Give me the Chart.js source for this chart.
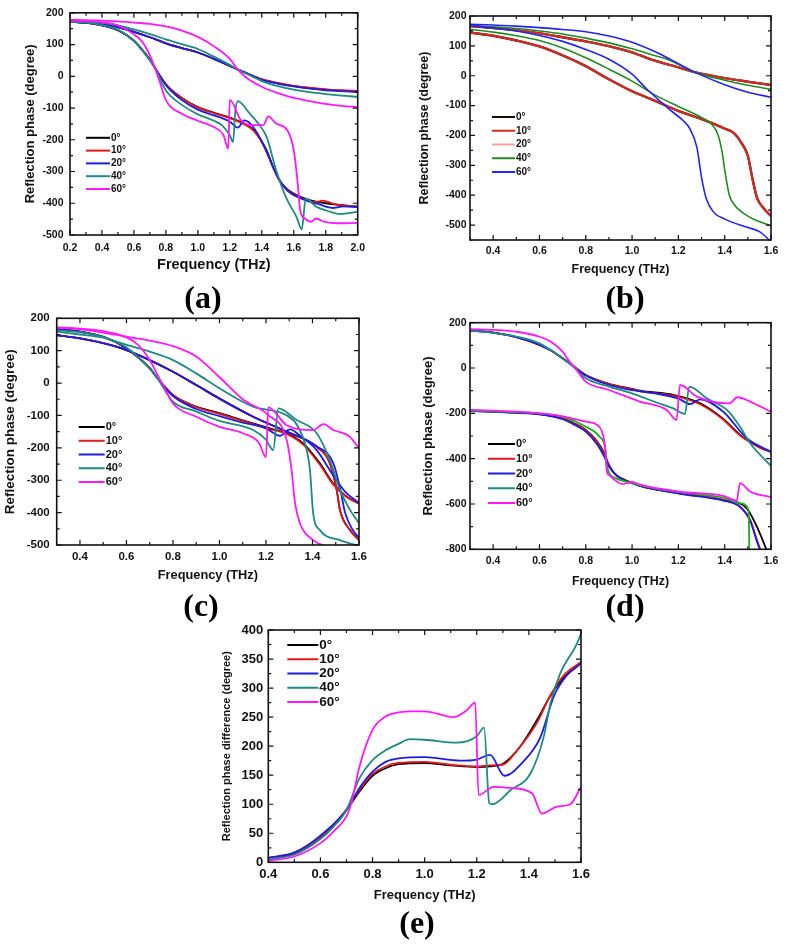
<!DOCTYPE html>
<html>
<head>
<meta charset="utf-8">
<script src="https://cdn.jsdelivr.net/npm/chart.js@4.4.0/dist/chart.umd.min.js"></script>
<style>
  body { margin: 0; width: 787px; height: 944px; position: relative; overflow: hidden; background: #fff; }
  canvas { position: absolute; }
  .tag { position: absolute; transform: translate(-50%, -50%); font: bold 32px "Liberation Serif", "Times New Roman", serif; color: #000; }
</style>
</head>
<body>
<canvas id="ca" width="372" height="285" style="left:0;top:0"></canvas>
<canvas id="cb" width="397" height="285" style="left:390px;top:0"></canvas>
<canvas id="cc" width="372" height="285" style="left:0;top:300px"></canvas>
<canvas id="cd" width="397" height="285" style="left:390px;top:305px"></canvas>
<canvas id="ce" width="400" height="290" style="left:200px;top:615px"></canvas>
<div class="tag" style="left:203px;top:297px">(a)</div>
<div class="tag" style="left:625px;top:297px">(b)</div>
<div class="tag" style="left:201px;top:605px">(c)</div>
<div class="tag" style="left:625px;top:605px">(d)</div>
<div class="tag" style="left:417px;top:922px">(e)</div>
<script>
const angles = ["0°", "10°", "20°", "40°", "60°"];

// ---- (a) ----
const aUp0 = [[0.2,172],[0.3,170],[0.4,165],[0.5,155],[0.6,140],[0.7,123],[0.8,104],[0.9,89],[1.0,75],[1.1,55],[1.2,33],[1.25,21],[1.3,11],[1.4,-10],[1.5,-22],[1.6,-31],[1.7,-37],[1.8,-42],[1.9,-45],[2.0,-48]];
const aUp10 = [[0.2,172],[0.3,170],[0.4,165],[0.5,155],[0.6,140],[0.7,123],[0.8,104],[0.9,89],[1.0,75],[1.1,55],[1.2,33],[1.25,21],[1.3,11],[1.4,-9],[1.5,-21],[1.6,-30],[1.7,-36],[1.8,-41],[1.9,-44],[2.0,-46]];
const aUp20 = [[0.2,172],[0.3,170],[0.4,165],[0.5,155],[0.6,140],[0.7,123],[0.8,104],[0.9,89],[1.0,75],[1.1,55],[1.2,33],[1.25,21],[1.3,11],[1.4,-11],[1.5,-23],[1.6,-32],[1.7,-39],[1.8,-44],[1.9,-47],[2.0,-50]];
const aUp40 = [[0.2,173],[0.3,172],[0.4,168],[0.5,160],[0.6,148],[0.7,133],[0.8,116],[0.9,101],[1.0,86],[1.1,62],[1.2,36],[1.25,21],[1.3,9],[1.4,-15],[1.5,-31],[1.6,-42],[1.7,-50],[1.8,-56],[1.9,-61],[2.0,-65]];
const aUp60 = [[0.2,178],[0.3,177],[0.4,175],[0.5,173],[0.6,169],[0.7,165],[0.8,157],[0.9,144],[1.0,124],[1.1,95],[1.2,55],[1.25,21],[1.3,-3],[1.4,-33],[1.5,-53],[1.6,-68],[1.7,-78],[1.8,-87],[1.9,-93],[2.0,-97]];
const aLo0 = [[0.2,172],[0.3,168],[0.4,160],[0.5,145],[0.6,112],[0.65,84],[0.7,52],[0.73,28],[0.8,-25],[0.9,-68],[1.0,-97],[1.1,-115],[1.2,-130],[1.3,-152],[1.35,-170],[1.43,-233],[1.47,-285],[1.51,-327],[1.55,-352],[1.62,-375],[1.7,-390],[1.8,-400],[1.9,-406],[2.0,-411]];
const aLo10 = [[0.2,172],[0.3,168],[0.4,160],[0.5,145],[0.6,112],[0.65,84],[0.7,52],[0.73,28],[0.8,-25],[0.9,-69],[1.0,-98],[1.1,-116],[1.2,-132],[1.3,-154],[1.35,-172],[1.43,-236],[1.47,-287],[1.51,-329],[1.55,-354],[1.62,-377],[1.74,-396],[1.78,-392],[1.85,-402],[1.9,-406],[2.0,-410]];
const aLo20 = [[0.2,172],[0.3,168],[0.4,160],[0.5,145],[0.6,112],[0.65,84],[0.7,52],[0.73,28],[0.8,-28],[0.9,-75],[1.0,-105],[1.1,-123],[1.2,-143],[1.25,-162],[1.29,-139],[1.33,-150],[1.385,-191],[1.44,-250],[1.5,-317],[1.56,-360],[1.64,-384],[1.75,-402],[1.85,-415],[1.91,-410],[2.0,-412]];
const aLo40 = [[0.2,172],[0.3,169],[0.4,161],[0.5,147],[0.6,112],[0.65,84],[0.7,50],[0.73,28],[0.8,-45],[0.9,-90],[1.0,-120],[1.1,-140],[1.15,-154],[1.2,-186],[1.22,-207],[1.235,-107],[1.25,-78],[1.325,-118],[1.38,-150],[1.43,-191],[1.49,-296],[1.55,-380],[1.617,-443],[1.65,-482],[1.675,-385],[1.74,-411],[1.8,-422],[1.89,-434],[2.0,-427]];
const aLo60 = [[0.2,176],[0.3,174],[0.4,170],[0.5,160],[0.6,132],[0.65,110],[0.7,66],[0.73,28],[0.76,-15],[0.8,-75],[0.9,-118],[1.0,-140],[1.1,-160],[1.16,-185],[1.19,-228],[1.2,-74],[1.27,-139],[1.35,-154],[1.41,-154],[1.44,-126],[1.49,-149],[1.56,-170],[1.6,-233],[1.625,-338],[1.64,-422],[1.67,-448],[1.71,-458],[1.74,-448],[1.79,-458],[1.875,-463],[2.0,-462]];

// ---- (b) ----
const bUp0 = [[0.3,166],[0.4,160],[0.5,152],[0.6,142],[0.7,129],[0.8,115],[0.9,99],[1.0,78],[1.08,55],[1.2,28],[1.27,12],[1.4,-8],[1.5,-20],[1.6,-31]];
const bUp10 = [[0.3,166],[0.4,160],[0.5,152],[0.6,142],[0.7,129],[0.8,115],[0.9,99],[1.0,78],[1.08,55],[1.2,28],[1.27,12],[1.4,-8],[1.5,-20],[1.6,-31]];
const bUp20 = [[0.3,166],[0.4,160],[0.5,152],[0.6,142],[0.7,129],[0.8,115],[0.9,99],[1.0,78],[1.08,55],[1.2,28],[1.27,12],[1.4,-8],[1.5,-20],[1.6,-31]];
const bUp40 = [[0.3,168],[0.4,164],[0.5,158],[0.6,150],[0.7,140],[0.8,126],[0.9,110],[1.0,90],[1.1,67],[1.16,53],[1.27,12],[1.4,-15],[1.5,-32],[1.6,-45]];
const bUp60 = [[0.3,172],[0.4,170],[0.5,166],[0.6,161],[0.7,155],[0.8,147],[0.9,133],[1.0,112],[1.1,80],[1.17,53],[1.27,12],[1.4,-30],[1.5,-55],[1.6,-72]];
const bLo0 = [[0.3,145],[0.4,134],[0.5,118],[0.6,98],[0.7,68],[0.8,32],[0.9,-12],[1.0,-52],[1.1,-84],[1.2,-118],[1.3,-145],[1.35,-160],[1.4,-177],[1.44,-192],[1.47,-222],[1.5,-268],[1.52,-345],[1.54,-410],[1.57,-445],[1.6,-470]];
const bLo10 = [[0.3,145],[0.4,134],[0.5,118],[0.6,98],[0.7,68],[0.8,32],[0.9,-12],[1.0,-52],[1.1,-84],[1.2,-118],[1.3,-145],[1.35,-160],[1.4,-177],[1.44,-192],[1.47,-222],[1.5,-268],[1.52,-345],[1.54,-410],[1.57,-445],[1.6,-470]];
const bLo20 = [[0.3,145],[0.4,134],[0.5,118],[0.6,98],[0.7,68],[0.8,32],[0.9,-12],[1.0,-52],[1.1,-84],[1.2,-118],[1.3,-145],[1.35,-160],[1.4,-177],[1.44,-192],[1.47,-222],[1.5,-268],[1.52,-345],[1.54,-410],[1.57,-445],[1.6,-470]];
const bLo40 = [[0.3,155],[0.4,146],[0.5,134],[0.6,118],[0.7,93],[0.8,60],[0.9,22],[1.0,-18],[1.1,-65],[1.2,-103],[1.3,-140],[1.34,-160],[1.37,-195],[1.39,-260],[1.4,-315],[1.42,-400],[1.44,-430],[1.5,-470],[1.6,-503]];
const bLo60 = [[0.3,168],[0.4,160],[0.5,150],[0.6,135],[0.7,115],[0.8,88],[0.9,55],[1.0,5],[1.06,-42],[1.16,-112],[1.22,-150],[1.25,-178],[1.28,-240],[1.3,-340],[1.32,-410],[1.35,-455],[1.4,-480],[1.5,-508],[1.55,-522],[1.6,-555]];

// ---- (c) ----
const cFast0 = [[0.3,166],[0.4,159],[0.5,143],[0.6,107],[0.7,46],[0.73,18],[0.8,-37],[0.9,-73],[1.0,-93],[1.1,-115],[1.217,-140],[1.289,-155],[1.36,-186],[1.432,-248],[1.489,-310],[1.547,-351],[1.6,-372]];
const cFast10 = [[0.3,166],[0.4,159],[0.5,143],[0.6,107],[0.7,46],[0.73,18],[0.8,-37],[0.9,-74],[1.0,-95],[1.1,-117],[1.217,-142],[1.289,-157],[1.36,-190],[1.432,-252],[1.489,-313],[1.547,-352],[1.6,-372]];
const cFast20 = [[0.3,166],[0.4,159],[0.5,143],[0.6,107],[0.7,46],[0.73,18],[0.8,-40],[0.9,-80],[1.0,-102],[1.1,-122],[1.2,-140],[1.26,-163],[1.303,-143],[1.35,-165],[1.418,-207],[1.48,-275],[1.54,-335],[1.6,-370]];
const cFast40 = [[0.3,163],[0.4,157],[0.5,142],[0.6,110],[0.7,45],[0.73,18],[0.8,-57],[0.9,-88],[1.0,-117],[1.145,-145],[1.2,-175],[1.231,-207],[1.253,-78],[1.332,-114],[1.418,-155],[1.475,-238],[1.518,-330],[1.56,-390],[1.6,-433]];
const cFast60 = [[0.3,172],[0.4,168],[0.5,160],[0.6,141],[0.65,118],[0.7,71],[0.73,30],[0.76,-10],[0.8,-63],[0.9,-104],[1.0,-135],[1.1,-155],[1.17,-185],[1.2,-229],[1.21,-75],[1.289,-130],[1.403,-145],[1.447,-127],[1.49,-145],[1.561,-166],[1.6,-202]];
const cSlow0 = [[0.3,148],[0.4,138],[0.5,123],[0.6,102],[0.7,71],[0.8,35],[0.9,-6],[1.0,-48],[1.145,-104],[1.289,-150],[1.418,-197],[1.475,-248],[1.504,-330],[1.518,-392],[1.561,-454],[1.6,-485]];
const cSlow10 = [[0.3,148],[0.4,138],[0.5,123],[0.6,102],[0.7,71],[0.8,35],[0.9,-6],[1.0,-48],[1.145,-104],[1.289,-150],[1.418,-197],[1.475,-248],[1.504,-330],[1.518,-392],[1.561,-454],[1.6,-485]];
const cSlow20 = [[0.3,148],[0.4,138],[0.5,123],[0.6,102],[0.7,71],[0.8,35],[0.9,-6],[1.0,-48],[1.145,-104],[1.289,-150],[1.418,-195],[1.49,-248],[1.52,-330],[1.54,-400],[1.57,-450],[1.6,-478]];
const cSlow40 = [[0.3,159],[0.4,150],[0.5,140],[0.6,118],[0.7,97],[0.8,71],[0.9,30],[1.0,-16],[1.145,-73],[1.317,-114],[1.36,-170],[1.375,-207],[1.389,-268],[1.403,-402],[1.432,-454],[1.518,-485],[1.6,-503]];
const cSlow60 = [[0.3,172],[0.4,166],[0.5,156],[0.6,143],[0.7,131],[0.8,114],[0.9,82],[1.0,18],[1.1,-50],[1.21,-99],[1.289,-176],[1.31,-268],[1.325,-371],[1.346,-433],[1.403,-485],[1.46,-505],[1.5,-515]];

// ---- (d) ----
const dUp0 = [[0.3,165],[0.4,156],[0.5,136],[0.6,102],[0.65,77],[0.7,43],[0.73,21],[0.8,-31],[0.9,-70],[1.0,-92],[1.034,-100],[1.178,-119],[1.294,-156],[1.394,-225],[1.466,-295],[1.495,-317],[1.55,-350],[1.6,-370]];
const dUp10 = [[0.3,165],[0.4,156],[0.5,136],[0.6,102],[0.65,77],[0.7,43],[0.73,21],[0.8,-31],[0.9,-71],[1.0,-94],[1.034,-102],[1.178,-122],[1.294,-160],[1.394,-228],[1.466,-298],[1.495,-318],[1.55,-350],[1.6,-370]];
const dUp20 = [[0.3,165],[0.4,156],[0.5,136],[0.6,102],[0.65,77],[0.7,43],[0.73,21],[0.8,-33],[0.9,-75],[1.0,-98],[1.1,-112],[1.2,-135],[1.25,-159],[1.294,-138],[1.394,-193],[1.495,-310],[1.6,-370]];
const dUp40 = [[0.3,165],[0.4,155],[0.5,139],[0.6,109],[0.7,43],[0.73,21],[0.8,-45],[0.9,-82],[1.0,-112],[1.1,-150],[1.178,-178],[1.228,-203],[1.247,-82],[1.323,-134],[1.41,-185],[1.466,-259],[1.51,-332],[1.6,-432]];
const dUp60 = [[0.3,172],[0.4,168],[0.5,160],[0.6,138],[0.65,116],[0.7,72],[0.73,28],[0.75,6],[0.8,-60],[0.9,-97],[1.0,-135],[1.034,-148],[1.15,-185],[1.192,-229],[1.207,-75],[1.28,-126],[1.42,-156],[1.455,-129],[1.51,-148],[1.6,-193]];
const dLo0 = [[0.3,-188],[0.4,-192],[0.5,-197],[0.6,-203],[0.7,-222],[0.75,-244],[0.8,-273],[0.85,-325],[0.88,-376],[0.9,-428],[0.93,-472],[0.97,-494],[1.0,-506],[1.034,-520],[1.207,-553],[1.394,-582],[1.495,-619],[1.539,-700],[1.575,-788],[1.59,-830]];
const dLo10 = [[0.3,-188],[0.4,-192],[0.5,-197],[0.6,-203],[0.7,-223],[0.75,-246],[0.8,-276],[0.85,-330],[0.88,-382],[0.9,-430],[0.93,-474],[0.97,-496],[1.0,-507],[1.034,-520],[1.207,-553],[1.394,-582],[1.466,-611],[1.51,-670],[1.539,-758],[1.553,-800],[1.56,-830]];
const dLo20 = [[0.3,-190],[0.4,-193],[0.5,-198],[0.6,-205],[0.7,-226],[0.75,-250],[0.8,-281],[0.85,-339],[0.88,-391],[0.9,-435],[0.95,-487],[1.0,-508],[1.034,-520],[1.207,-555],[1.394,-585],[1.466,-613],[1.51,-675],[1.539,-765],[1.553,-805],[1.56,-830]];
const dLo40 = [[0.3,-188],[0.4,-191],[0.5,-195],[0.6,-200],[0.7,-215],[0.8,-259],[0.86,-303],[0.885,-362],[0.89,-428],[0.93,-487],[0.97,-501],[1.0,-507],[1.034,-518],[1.207,-548],[1.394,-572],[1.466,-597],[1.503,-626],[1.505,-700],[1.507,-850]];
const dLo60 = [[0.3,-185],[0.4,-188],[0.5,-192],[0.6,-200],[0.7,-213],[0.8,-237],[0.85,-251],[0.87,-281],[0.885,-362],[0.89,-450],[0.9,-472],[0.96,-512],[1.0,-503],[1.034,-515],[1.207,-546],[1.394,-564],[1.452,-585],[1.466,-508],[1.51,-545],[1.6,-570]];

// ---- (e) ----
const e0 = [[0.4,7],[0.5,15],[0.6,43],[0.65,64],[0.7,90],[0.75,122],[0.8,149],[0.85,162],[0.9,169],[1.0,171],[1.1,167],[1.2,164],[1.25,165],[1.302,170],[1.366,199],[1.431,245],[1.483,287],[1.534,318],[1.6,343]];
const e10 = [[0.4,7],[0.5,16],[0.6,44],[0.65,65],[0.7,91],[0.75,125],[0.8,152],[0.85,165],[0.9,171],[1.0,173],[1.1,168],[1.2,165],[1.25,167],[1.3,168],[1.35,190],[1.431,240],[1.483,288],[1.534,322],[1.6,345]];
const e20 = [[0.4,8],[0.5,17],[0.6,46],[0.7,90],[0.75,128],[0.8,156],[0.85,173],[0.9,179],[1.0,181],[1.136,175],[1.2,177],[1.251,185],[1.306,149],[1.378,173],[1.444,215],[1.495,285],[1.546,322],[1.6,342]];
const e40 = [[0.4,5],[0.5,13],[0.6,40],[0.65,61],[0.7,90],[0.75,145],[0.8,176],[0.85,193],[0.9,204],[0.944,212],[1.0,211],[1.123,206],[1.2,217],[1.228,232],[1.248,102],[1.26,100],[1.329,124],[1.406,153],[1.457,216],[1.483,274],[1.52,325],[1.585,377],[1.6,394]];
const e60 = [[0.4,3],[0.5,10],[0.6,33],[0.65,53],[0.7,79],[0.72,104],[0.75,165],[0.8,228],[0.85,251],[0.9,258],[0.944,260],[1.0,260],[1.11,250],[1.162,262],[1.194,275],[1.207,116],[1.265,130],[1.329,128],[1.412,119],[1.45,84],[1.508,96],[1.559,100],[1.6,130]];

const FONT = '"Liberation Sans", Arial, sans-serif';
const mainColors = ["#000000", "#e4171a", "#1d1de2", "#1f8a82", "#ff18ff"];
const bColors = ["#200800", "#d8281e", "#f4a4a0", "#238a23", "#2424f0"];
const dLowColors = ["#000000", "#e4171a", "#1d1de2", "#19b019", "#ff18ff"];

// frame with inward major/minor ticks on all four sides
const frameTicks = {
  id: "frameTicks",
  afterDatasetsDraw(chart, args, o) {
    const { ctx, chartArea: a } = chart;
    ctx.save();
    ctx.strokeStyle = "#111";
    ctx.lineWidth = 1.6;
    ctx.strokeRect(a.left, a.top, a.right - a.left, a.bottom - a.top);
    ctx.lineWidth = 1.2;
    ctx.beginPath();
    const marks = (scale, minor, horiz) => {
      const majors = scale.ticks.map(t => t.value);
      const k0 = Math.ceil(scale.min / minor - 1e-6), k1 = Math.floor(scale.max / minor + 1e-6);
      for (let k = k0; k <= k1; k++) {
        const v = k * minor;
        const len = majors.some(m => Math.abs(m - v) < minor / 10) ? o.major : o.minor;
        const p = scale.getPixelForValue(v);
        if (horiz) {
          ctx.moveTo(p, a.bottom); ctx.lineTo(p, a.bottom - len);
          ctx.moveTo(p, a.top); ctx.lineTo(p, a.top + len);
        } else {
          ctx.moveTo(a.left, p); ctx.lineTo(a.left + len, p);
          ctx.moveTo(a.right, p); ctx.lineTo(a.right - len, p);
        }
      }
    };
    marks(chart.scales.x, o.xMinor, true);
    marks(chart.scales.y, o.yMinor, false);
    ctx.stroke();
    ctx.restore();
  }
};

// legend drawn inside the plot area
const insetLegend = {
  id: "insetLegend",
  afterDraw(chart, args, o) {
    const { ctx, chartArea: a } = chart;
    ctx.save();
    ctx.font = "bold " + o.size + "px " + FONT;
    ctx.textBaseline = "middle";
    let row = 0;
    chart.data.datasets.forEach(ds => {
      if (ds.noLegend) return;
      const yy = a.top + o.top + row * o.rowH;
      const x0 = a.left + o.left;
      ctx.strokeStyle = ds.borderColor;
      ctx.lineWidth = 2;
      ctx.beginPath();
      ctx.moveTo(x0, yy);
      ctx.lineTo(x0 + o.len, yy);
      ctx.stroke();
      ctx.fillStyle = "#111";
      ctx.fillText(ds.label, x0 + o.len + 1, yy);
      row++;
    });
    ctx.restore();
  }
};

function series(label, color, pts, order, width, noLegend) {
  return {
    label, data: pts, borderColor: color, borderWidth: width, order, noLegend,
    pointRadius: 0, fill: false, cubicInterpolationMode: "monotone"
  };
}

function buildSets(colors, uppers, lowers, lowColors, orders, widths) {
  const sets = [];
  angles.forEach((lab, i) => {
    sets.push(series(lab, colors[i], uppers[i], orders[i], widths[i], false));
    if (lowers) sets.push(series(lab, (lowColors || colors)[i], lowers[i], orders[i], widths[i], true));
  });
  return sets;
}

function makeChart(id, p) {
  const f = (size) => ({ family: FONT, weight: "bold", size });
  return new Chart(document.getElementById(id), {
    type: "line",
    data: { datasets: p.datasets },
    options: {
      responsive: false,
      animation: false,
      layout: { padding: { top: p.padTop, right: p.padRight, left: 0, bottom: 0 } },
      plugins: {
        legend: { display: false },
        tooltip: { enabled: false },
        frameTicks: { major: 5, minor: 3, xMinor: p.minor[0], yMinor: p.minor[1] },
        insetLegend: p.legend
      },
      scales: {
        x: {
          type: "linear", min: p.x[0], max: p.x[1],
          afterFit: s => { s.height = p.xh; },
          grid: { display: false, drawTicks: false }, border: { display: false },
          ticks: { stepSize: p.x[2], includeBounds: false, autoSkip: false, maxRotation: 0,
                   padding: p.xPad, color: "#111", font: f(p.tick), callback: v => v.toFixed(1) },
          title: { display: true, text: "Frequency (THz)", color: "#111", font: f(p.xt),
                   padding: { top: 0, bottom: p.xtPad } }
        },
        y: {
          type: "linear", min: p.y[0], max: p.y[1],
          afterFit: s => { s.width = p.yw; },
          grid: { display: false, drawTicks: false }, border: { display: false },
          ticks: { stepSize: p.y[2], includeBounds: false, autoSkip: false,
                   padding: p.yPad, color: "#111", font: f(p.tick) },
          title: { display: true, text: p.yTitle, color: "#111", font: f(p.yt),
                   padding: { top: p.ytPad, bottom: 0 } }
        }
      }
    },
    plugins: [frameTicks, insetLegend]
  });
}

const phaseTitle = "Reflection phase (degree)";
const stdOrder = [4, 3, 2, 1, 0];
const w18 = [1.8, 1.8, 1.8, 1.8, 1.8];

makeChart("ca", {
  datasets: buildSets(mainColors, [aUp0, aUp10, aUp20, aUp40, aUp60], [aLo0, aLo10, aLo20, aLo40, aLo60], null, stdOrder, w18),
  x: [0.2, 2.0, 0.2], y: [-500, 200, 100], minor: [0.1, 50],
  padTop: 12.3, padRight: 14, yw: 70, xh: 50,
  tick: 10.5, xt: 14.5, yt: 13, xPad: 7, yPad: 6.5, xtPad: 11.3, ytPad: 22.2, yTitle: phaseTitle,
  legend: { left: 16, top: 125, rowH: 12.8, len: 24, size: 10 }
});

makeChart("cb", {
  datasets: buildSets(bColors, [bUp0, bUp10, bUp20, bUp40, bUp60], [bLo0, bLo10, bLo20, bLo40, bLo60], null, [4, 2, 3, 1, 0], [2.4, 2, 1.2, 1.6, 1.6]),
  x: [0.3, 1.6, 0.2], y: [-550, 200, 100], minor: [0.1, 50],
  padTop: 16, padRight: 16, yw: 80, xh: 45,
  tick: 10.5, xt: 12.5, yt: 12.5, xPad: 5, yPad: 3.5, xtPad: 7.5, ytPad: 27.5, yTitle: phaseTitle,
  legend: { left: 22, top: 101, rowH: 13.75, len: 23, size: 10 }
});

makeChart("cc", {
  datasets: buildSets(mainColors, [cFast0, cFast10, cFast20, cFast40, cFast60], [cSlow0, cSlow10, cSlow20, cSlow40, cSlow60], null, stdOrder, w18),
  x: [0.3, 1.6, 0.2], y: [-500, 200, 100], minor: [0.1, 50],
  padTop: 18.3, padRight: 13, yw: 56.7, xh: 40,
  tick: 11.5, xt: 12.8, yt: 13.5, xPad: 5, yPad: 7, xtPad: 2.3, ytPad: 1.9, yTitle: phaseTitle,
  legend: { left: 22, top: 108.7, rowH: 13.75, len: 26, size: 11 }
});

makeChart("cd", {
  datasets: buildSets(mainColors, [dUp0, dUp10, dUp20, dUp40, dUp60], [dLo0, dLo10, dLo20, dLo40, dLo60], dLowColors, stdOrder, w18),
  x: [0.3, 1.6, 0.2], y: [-800, 200, 200], minor: [0.1, 100],
  padTop: 17.7, padRight: 16, yw: 80, xh: 40.7,
  tick: 10.5, xt: 12.4, yt: 13, xPad: 6, yPad: 3.5, xtPad: 0.5, ytPad: 30.2, yTitle: phaseTitle,
  legend: { left: 18, top: 121.3, rowH: 14.75, len: 27, size: 11 }
});

makeChart("ce", {
  datasets: buildSets(mainColors, [e0, e10, e20, e40, e60], null, null, stdOrder, w18),
  x: [0.4, 1.6, 0.2], y: [0, 400, 50], minor: [0.1, 25],
  padTop: 15, padRight: 19, yw: 68.3, xh: 42.7,
  tick: 13, xt: 13, yt: 11, xPad: 4, yPad: 5, xtPad: 2.2, ytPad: 20.4, yTitle: "Reflection phase difference (degree)",
  legend: { left: 19, top: 15, rowH: 14.25, len: 31, size: 13.5 }
});
</script>
</body>
</html>
